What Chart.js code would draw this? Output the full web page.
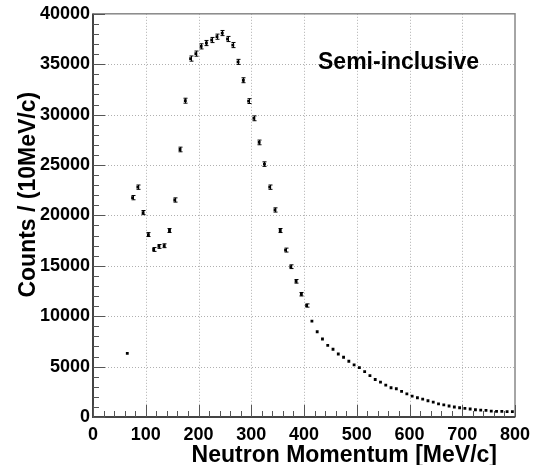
<!DOCTYPE html>
<html>
<head>
<meta charset="utf-8">
<script src="https://cdn.jsdelivr.net/npm/chart.js@4.4.1/dist/chart.umd.min.js"></script>
<style>
  html, body { margin: 0; padding: 0; background: #fff; }
  #wrap { width: 548px; height: 465px; position: relative; }
</style>
</head>
<body>
<div id="wrap"><canvas id="chart" width="548" height="465"></canvas></div>
<script>
// bin centres [MeV/c]
const momentum = [65, 75, 85, 95, 105, 115, 125, 135, 145, 155, 165, 175, 185, 195, 205, 215, 225, 235, 245, 255,
  265, 275, 285, 295, 305, 315, 325, 335, 345, 355, 365, 375, 385, 395, 405, 415, 425, 435, 445, 455,
  465, 475, 485, 495, 505, 515, 525, 535, 545, 555, 565, 575, 585, 595, 605, 615, 625, 635, 645, 655,
  665, 675, 685, 695, 705, 715, 725, 735, 745, 755, 765, 775, 785, 795];
// counts per 10 MeV/c
const counts = [6320, 21760, 22800, 20280, 18100, 16620, 16920, 16990, 18500, 21530, 26540, 31380, 35560, 36050, 36770, 37100, 37400, 37730, 38090, 37500,
  36900, 35230, 33410, 31340, 29630, 27240, 25090, 22800, 20540, 18500, 16560, 14910, 13460, 12180, 11060, 9510, 8460, 7740, 7110, 6720,
  6250, 5930, 5530, 5170, 4900, 4510, 4110, 3720, 3460, 3160, 2900, 2800, 2540, 2300, 2070, 1910, 1780, 1610, 1480, 1310,
  1210, 1090, 990, 920, 860, 790, 720, 690, 660, 590, 560, 560, 530, 530];
// errors (read as bar half-lengths)
const errors = [100, 210, 215, 205, 195, 190, 190, 190, 195, 210, 230, 245, 255, 255, 255, 255, 255, 255, 255, 255,
  255, 250, 245, 240, 238, 232, 225, 215, 210, 200, 195, 185, 180, 172, 162, 140, 125, 115, 105, 100,
  95, 90, 85, 80, 76, 72, 68, 64, 60, 57, 54, 52, 50, 48, 45, 44, 42, 40, 38, 36,
  35, 33, 31, 30, 29, 28, 27, 26, 26, 24, 24, 24, 23, 23];
const xTicks = [0, 100, 200, 300, 400, 500, 600, 700, 800];
const yTicks = [0, 5000, 10000, 15000, 20000, 25000, 30000, 35000, 40000];

const FONT = '"Liberation Sans", Arial, Helvetica, sans-serif';

const points = momentum.map((m, i) => ({ x: m, y: counts[i] }));

// grid, frame, inward ticks, error bars and texts, ROOT style
const rootStyle = {
  id: 'rootStyle',
  beforeDatasetsDraw(chart) {
    const { ctx, chartArea: a, scales: { x, y } } = chart;
    ctx.save();
    ctx.strokeStyle = '#b0b0b0';
    ctx.lineWidth = 1;
    ctx.setLineDash([1, 2]);
    xTicks.forEach(v => {
      if (v === 0 || v === 800) return;
      const px = Math.round(x.getPixelForValue(v)) + 0.5;
      ctx.beginPath(); ctx.moveTo(px, a.top); ctx.lineTo(px, a.bottom); ctx.stroke();
    });
    yTicks.forEach(v => {
      if (v === 0 || v === 40000) return;
      const py = Math.round(y.getPixelForValue(v)) + 0.5;
      ctx.beginPath(); ctx.moveTo(a.left, py); ctx.lineTo(a.right, py); ctx.stroke();
    });
    ctx.setLineDash([]);

    // error bars
    ctx.strokeStyle = '#000';
    ctx.lineWidth = 1;
    momentum.forEach((m, i) => {
      const px = Math.round(x.getPixelForValue(m)) + 0.5;
      const top = y.getPixelForValue(counts[i] + errors[i]);
      const bot = y.getPixelForValue(counts[i] - errors[i]);
      if (bot - top < 3) return;
      ctx.beginPath();
      ctx.moveTo(px, top); ctx.lineTo(px, bot);
      ctx.moveTo(px - 2, top); ctx.lineTo(px + 2, top);
      ctx.moveTo(px - 2, bot); ctx.lineTo(px + 2, bot);
      ctx.stroke();
    });
    ctx.restore();
  },
  afterDatasetsDraw(chart) {
    const { ctx, chartArea: a, scales: { x, y } } = chart;
    ctx.save();
    // frame
    ctx.strokeStyle = '#888';
    ctx.lineWidth = 1.5;
    ctx.strokeRect(a.left, a.top, a.right - a.left, a.bottom - a.top);
    ctx.strokeStyle = '#444';
    ctx.lineWidth = 2;
    ctx.beginPath();
    ctx.moveTo(a.left, a.top); ctx.lineTo(a.left, a.bottom); ctx.lineTo(a.right, a.bottom);
    ctx.stroke();

    // inward ticks
    ctx.strokeStyle = '#555';
    ctx.lineWidth = 1;
    for (let v = 0; v <= 800; v += 20) {
      const px = Math.round(x.getPixelForValue(v)) + 0.5;
      const len = v % 100 === 0 ? 12 : 6;
      ctx.beginPath(); ctx.moveTo(px, a.bottom); ctx.lineTo(px, a.bottom - len); ctx.stroke();
    }
    for (let v = 0; v <= 40000; v += 1000) {
      const py = Math.round(y.getPixelForValue(v)) + 0.5;
      const len = v % 5000 === 0 ? 12 : 6;
      ctx.beginPath(); ctx.moveTo(a.left, py); ctx.lineTo(a.left + len, py); ctx.stroke();
    }

    // texts
    ctx.fillStyle = '#000';
    ctx.font = 'bold 23px ' + FONT;
    ctx.textBaseline = 'alphabetic';
    ctx.textAlign = 'right';
    ctx.fillText('Neutron Momentum [MeV/c]', a.right - 18, 462);
    ctx.textAlign = 'left';
    ctx.fillText('Semi-inclusive', 318, 69);
    ctx.translate(35, a.top + 78);
    ctx.rotate(-Math.PI / 2);
    ctx.textAlign = 'right';
    ctx.fillText('Counts / (10MeV/c)', 0, 0);
    ctx.restore();
  }
};

new Chart(document.getElementById('chart'), {
  type: 'scatter',
  data: {
    datasets: [{
      data: points,
      pointStyle: 'rect',
      pointRadius: 2,
      pointHoverRadius: 2,
      backgroundColor: '#000',
      borderColor: '#000',
      borderWidth: 0
    }]
  },
  plugins: [rootStyle],
  options: {
    responsive: false,
    animation: false,
    events: [],
    layout: { padding: { left: 0, right: 33, top: 12, bottom: 0 } },
    plugins: { legend: { display: false }, tooltip: { enabled: false } },
    scales: {
      x: {
        type: 'linear', min: 0, max: 800,
        afterBuildTicks: s => { s.ticks = xTicks.map(v => ({ value: v })); },
        afterFit: s => { s.height = 48; },
        grid: { display: false, drawTicks: false },
        border: { display: false },
        ticks: {
          color: '#000', padding: 7, maxRotation: 0, autoSkip: false,
          font: { family: FONT, size: 18, weight: 'bold' }
        }
      },
      y: {
        type: 'linear', min: 0, max: 40000,
        afterBuildTicks: s => { s.ticks = yTicks.map(v => ({ value: v })); },
        afterFit: s => { s.width = 93; },
        grid: { display: false, drawTicks: false },
        border: { display: false },
        ticks: {
          color: '#000', padding: 3, autoSkip: false,
          font: { family: FONT, size: 18, weight: 'bold' },
          callback: v => String(v)
        }
      }
    }
  }
});
</script>
</body>
</html>
